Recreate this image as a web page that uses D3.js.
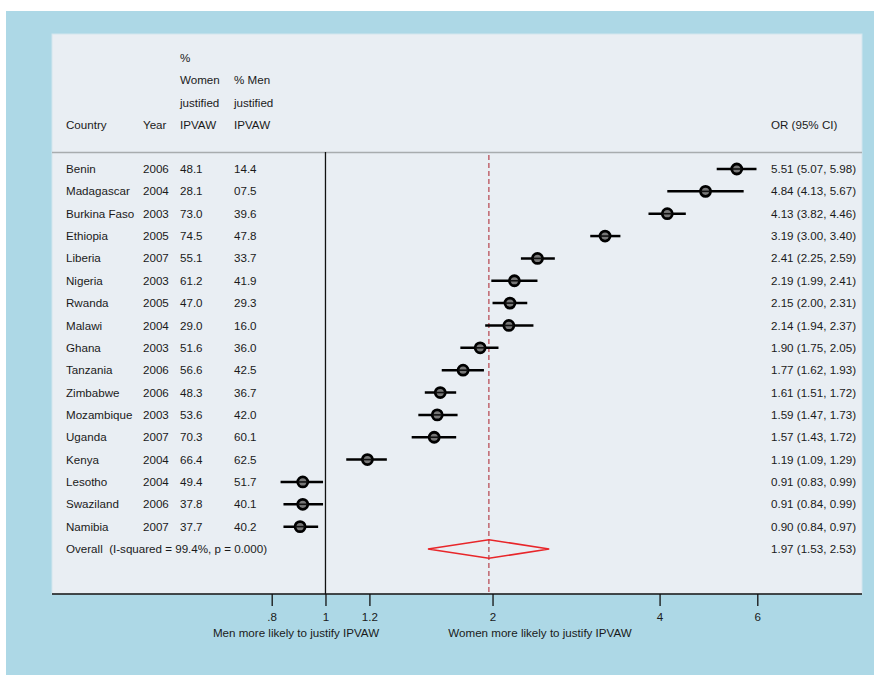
<!DOCTYPE html>
<html><head><meta charset="utf-8">
<script src="https://cdn.jsdelivr.net/npm/d3@7"></script>
<style>body{margin:0;background:#fff}svg{display:block}text{font-family:"Liberation Sans",Arial,sans-serif;fill:#1a1a1a;white-space:pre}</style>
</head><body>
<svg id="c" width="874" height="675"></svg>
<script>
const countries = ["Benin","Madagascar","Burkina Faso","Ethiopia","Liberia","Nigeria","Rwanda","Malawi","Ghana","Tanzania","Zimbabwe","Mozambique","Uganda","Kenya","Lesotho","Swaziland","Namibia"];
const years = ["2006","2004","2003","2005","2007","2003","2005","2004","2003","2006","2006","2003","2007","2004","2004","2006","2007"];
const womenPct = ["48.1","28.1","73.0","74.5","55.1","61.2","47.0","29.0","51.6","56.6","48.3","53.6","70.3","66.4","49.4","37.8","37.7"];
const menPct = ["14.4","07.5","39.6","47.8","33.7","41.9","29.3","16.0","36.0","42.5","36.7","42.0","60.1","62.5","51.7","40.1","40.2"];
const orVals = [5.51,4.84,4.13,3.19,2.41,2.19,2.15,2.14,1.90,1.77,1.61,1.59,1.57,1.19,0.91,0.91,0.90];
const ciLow = [5.07,4.13,3.82,3.00,2.25,1.99,2.00,1.94,1.75,1.62,1.51,1.47,1.43,1.09,0.83,0.84,0.84];
const ciHigh = [5.98,5.67,4.46,3.40,2.59,2.41,2.31,2.37,2.05,1.93,1.72,1.73,1.72,1.29,0.99,0.99,0.97];
const overall = {label:"Overall  (I-squared = 99.4%, p = 0.000)", or:1.97, lo:1.53, hi:2.53};
const tickVals = [0.8,1,1.2,2,4,6];
const tickLabels = [".8","1","1.2","2","4","6"];
const headers = [
  {lines:["Country"], x:66},
  {lines:["Year"], x:143},
  {lines:["%","Women","justified","IPVAW"], x:180},
  {lines:["% Men","justified","IPVAW"], x:234},
  {lines:["OR (95% CI)"], x:771}
];

const svg = d3.select("#c");
const FS = 11.6;
svg.append("rect").attr("x",6).attr("y",11).attr("width",868).attr("height",664).attr("fill","#ADD8E6");
svg.append("rect").attr("x",52).attr("y",34).attr("width",810).attr("height",560).attr("fill","#E9EEF3").attr("stroke","#D3E6EE").attr("stroke-width",1);

const x = d3.scaleLog().domain([0.8,6]).range([271.7,757.3]);
const y = d3.scaleLinear().domain([0,17]).range([169,549]);
const axisY = 594;

const lineH = 22.3;
headers.forEach(h=>{
  const n = h.lines.length;
  h.lines.forEach((t,i)=>{
    svg.append("text").attr("x",h.x).attr("y",125-(n-1-i)*lineH).attr("dy","0.35em").attr("font-size",FS).text(t);
  });
});
svg.append("line").attr("x1",52).attr("x2",862).attr("y1",152.5).attr("y2",152.5).attr("stroke","#A8ACAE").attr("stroke-width",1.5);

svg.append("line").attr("x1",x(1)).attr("x2",x(1)).attr("y1",152).attr("y2",axisY).attr("stroke","#111").attr("stroke-width",1.3);
svg.append("line").attr("x1",x(overall.or)).attr("x2",x(overall.or)).attr("y1",155).attr("y2",axisY).attr("stroke","#B5434C").attr("stroke-width",1.2).attr("stroke-dasharray","5,3");

const rows = svg.append("g");
countries.forEach((c,i)=>{
  const yy = y(i);
  rows.append("text").attr("x",66).attr("y",yy).attr("dy","0.35em").attr("font-size",FS).text(c);
  rows.append("text").attr("x",143).attr("y",yy).attr("dy","0.35em").attr("font-size",FS).text(years[i]);
  rows.append("text").attr("x",180).attr("y",yy).attr("dy","0.35em").attr("font-size",FS).text(womenPct[i]);
  rows.append("text").attr("x",234).attr("y",yy).attr("dy","0.35em").attr("font-size",FS).text(menPct[i]);
  rows.append("text").attr("x",771).attr("y",yy).attr("dy","0.35em").attr("font-size",FS)
    .text(orVals[i].toFixed(2)+" ("+ciLow[i].toFixed(2)+", "+ciHigh[i].toFixed(2)+")");
});
rows.append("text").attr("x",66).attr("y",y(17)).attr("dy","0.35em").attr("font-size",FS).text(overall.label);
rows.append("text").attr("x",771).attr("y",y(17)).attr("dy","0.35em").attr("font-size",FS)
  .text(overall.or.toFixed(2)+" ("+overall.lo.toFixed(2)+", "+overall.hi.toFixed(2)+")");

const marks = svg.append("g");
countries.forEach((c,i)=>{
  const yy = y(i);
  marks.append("line").attr("x1",x(ciLow[i])).attr("x2",x(ciHigh[i])).attr("y1",yy).attr("y2",yy).attr("stroke","#000").attr("stroke-width",2.5);
  marks.append("circle").attr("cx",x(orVals[i])).attr("cy",yy).attr("r",5).attr("fill","#777").attr("stroke","#000").attr("stroke-width",2.8);
  marks.append("line").attr("x1",x(orVals[i])-5).attr("x2",x(orVals[i])+5).attr("y1",yy).attr("y2",yy).attr("stroke","#111").attr("stroke-width",1.6);
});

const yd = y(17), hd = 9.3;
svg.append("path").attr("d",`M${x(overall.lo)},${yd}L${x(overall.or)},${yd-hd}L${x(overall.hi)},${yd}L${x(overall.or)},${yd+hd}Z`)
  .attr("fill","none").attr("stroke","#E8262A").attr("stroke-width",1.6);

svg.append("line").attr("x1",52).attr("x2",862).attr("y1",axisY).attr("y2",axisY).attr("stroke","#111").attr("stroke-width",1.3);
const ax = d3.axisBottom(x).tickValues(tickVals).tickFormat((d,i)=>tickLabels[i]).tickSize(12).tickPadding(7);
const g = svg.append("g").attr("transform",`translate(0,${axisY})`).call(ax);
g.select(".domain").remove();
g.selectAll(".tick line").attr("stroke","#111").attr("stroke-width",1.3);
g.selectAll(".tick text").attr("font-size",FS).attr("font-family","Liberation Sans, Arial, sans-serif").attr("fill","#1a1a1a");
svg.append("text").attr("x",296).attr("y",633).attr("dy","0.35em").attr("text-anchor","middle").attr("font-size",FS).text("Men more likely to justify IPVAW");
svg.append("text").attr("x",540).attr("y",633).attr("dy","0.35em").attr("text-anchor","middle").attr("font-size",FS).text("Women more likely to justify IPVAW");
</script>
</body></html>
